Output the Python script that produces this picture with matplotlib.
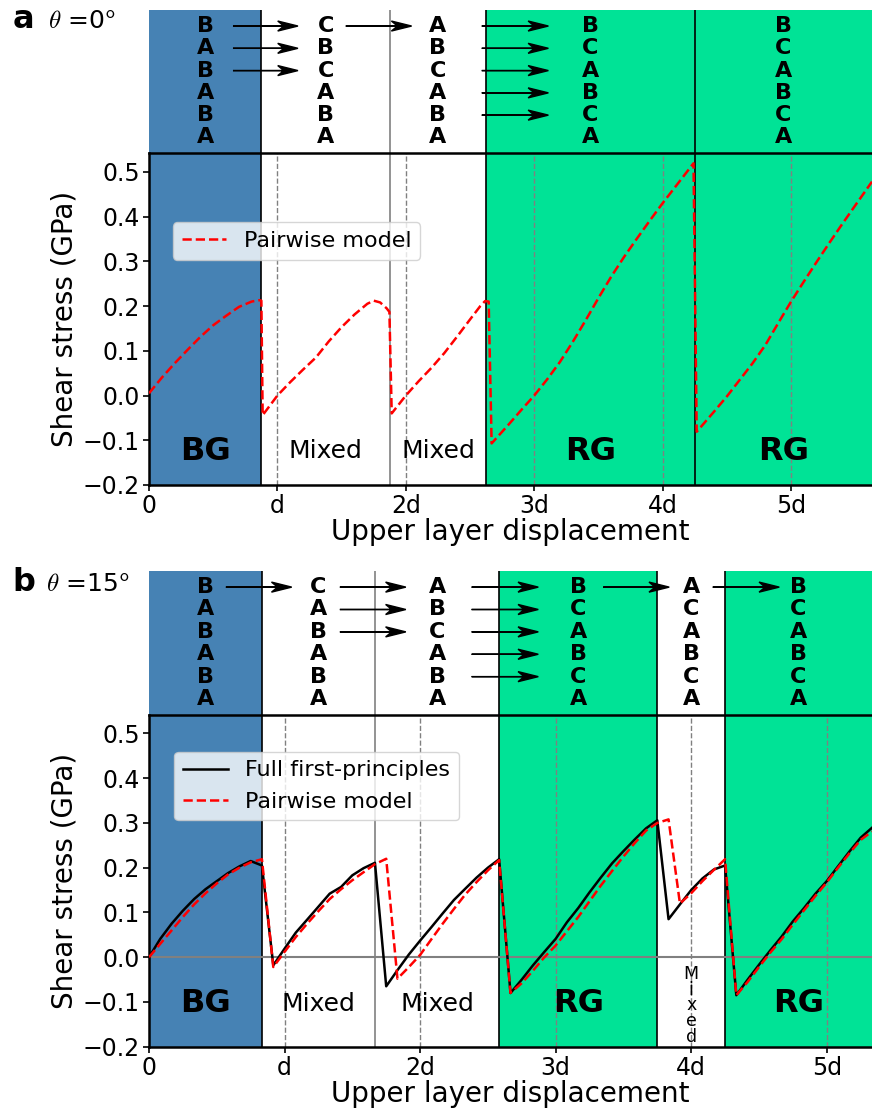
import matplotlib.pyplot as plt
import numpy as np

# ---------------- data ----------------
# panel a (theta = 0): pairwise model only
a_x = [0, 0.1, 0.2, 0.3, 0.4, 0.5, 0.6, 0.7, 0.8, 0.86, 0.875, 0.885,
       1.0, 1.1, 1.2, 1.3, 1.4, 1.5, 1.6, 1.7, 1.75, 1.8, 1.85, 1.872, 1.89,
       2.0, 2.1, 2.2, 2.3, 2.4, 2.5, 2.58, 2.617, 2.645, 2.668,
       2.8, 2.9, 3.0, 3.1, 3.2, 3.3, 3.4, 3.5, 3.6, 3.7, 3.8, 3.9, 4.0, 4.1, 4.2, 4.24, 4.265,
       4.4, 4.5, 4.6, 4.7, 4.8, 4.9, 5.0, 5.1, 5.2, 5.3, 5.4, 5.5, 5.63]
a_pair = [0.005, 0.04, 0.072, 0.102, 0.131, 0.157, 0.178, 0.198, 0.21, 0.213, 0.212, -0.044,
          0.0, 0.03, 0.058, 0.085, 0.121, 0.153, 0.181, 0.205, 0.212, 0.208, 0.195, 0.187, -0.04,
          0.0, 0.032, 0.062, 0.095, 0.132, 0.17, 0.2, 0.211, 0.21, -0.107,
          -0.065, -0.032, 0.0, 0.036, 0.075, 0.12, 0.168, 0.218, 0.266, 0.31, 0.351, 0.391, 0.43, 0.467, 0.504, 0.519, -0.081,
          -0.036, -0.002, 0.035, 0.072, 0.113, 0.162, 0.21, 0.255, 0.299, 0.342, 0.384, 0.425, 0.478]
a_bounds = [0, 0.875, 1.875, 2.625, 4.25, 5.63]
a_kinds = ['BG', 'Mixed', 'Mixed', 'RG', 'RG']
a_stacks = ['BABABA', 'CBCABA', 'ABCABA', 'BCABCA', 'BCABCA']
a_arrows = [(0.654, 1.16, 3), (1.532, 2.045, 1), (2.591, 3.11, 5)]

# panel b (theta = 15): full first-principles and pairwise model
b_x = [0, 0.083, 0.167, 0.25, 0.333, 0.417, 0.5, 0.583, 0.667, 0.75, 0.833,
       0.917, 1.0, 1.083, 1.167, 1.25, 1.333, 1.417, 1.5, 1.583, 1.667,
       1.75, 1.833, 1.917, 2.0, 2.083, 2.167, 2.25, 2.333, 2.417, 2.5, 2.583,
       2.667, 2.75, 2.833, 2.917, 3.0, 3.083, 3.167, 3.25, 3.333, 3.417, 3.5,
       3.583, 3.667, 3.75, 3.833, 3.917, 4.0, 4.083, 4.167, 4.25,
       4.333, 4.417, 4.5, 4.583, 4.667, 4.75, 4.833, 4.917, 5.0, 5.083,
       5.167, 5.25, 5.333]
b_full = [0.0, 0.041, 0.075, 0.104, 0.130, 0.152, 0.170, 0.188, 0.203, 0.215, 0.205,
          -0.018, 0.019, 0.055, 0.084, 0.113, 0.142, 0.157, 0.183, 0.199, 0.211,
          -0.065, -0.029, 0.006, 0.037, 0.067, 0.098, 0.128, 0.153, 0.178, 0.200, 0.219,
          -0.080, -0.050, -0.018, 0.012, 0.041, 0.078, 0.110, 0.145, 0.178, 0.210, 0.237,
          0.263, 0.288, 0.306, 0.085, 0.118, 0.150, 0.176, 0.196, 0.205,
          -0.085, -0.050, -0.017, 0.015, 0.046, 0.080, 0.110, 0.142, 0.170, 0.203,
          0.236, 0.267, 0.289]
b_pair = [0.0, 0.030, 0.060, 0.090, 0.118, 0.143, 0.165, 0.185, 0.200, 0.212, 0.219,
          -0.022, 0.012, 0.045, 0.075, 0.103, 0.130, 0.152, 0.172, 0.190, 0.208,
          0.220, -0.048, -0.022, 0.005, 0.040, 0.075, 0.108, 0.140, 0.168, 0.194, 0.217,
          -0.080, -0.058, -0.030, 0.000, 0.026, 0.058, 0.090, 0.125, 0.160, 0.193, 0.225,
          0.255, 0.283, 0.300, 0.308, 0.120, 0.143, 0.170, 0.195, 0.219,
          -0.085, -0.055, -0.022, 0.010, 0.040, 0.073, 0.105, 0.137, 0.167, 0.200,
          0.232, 0.262, 0.281]
b_bounds = [0, 0.833, 1.667, 2.583, 3.75, 4.25, 5.334]
b_kinds = ['BG', 'Mixed', 'Mixed', 'RG', 'Mixed', 'RG']
b_stacks = ['BABABA', 'CABABA', 'ABCABA', 'BCABCA', 'ACABCA', 'BCABCA']
b_arrows = [(0.567, 1.053, 1), (1.408, 1.895, 3), (2.38, 2.872, 5),
            (3.351, 3.838, 1), (4.159, 4.65, 1)]

xtick_labels = ['0', 'd', '2d', '3d', '4d', '5d']
region_color = {'BG': '#4682B4', 'RG': '#00E396', 'Mixed': 'white'}

H = 1115.0
L = 149 / 872.0
fig = plt.figure(figsize=(8.72, 11.15), dpi=100)


def panel(top_px, mid_px, bot_px, bounds, kinds, stacks, arrows, label_y, zero_line):
    ax_top = fig.add_axes([L, 1 - mid_px / H, 1 - L, (mid_px - top_px) / H])
    ax = fig.add_axes([L, 1 - bot_px / H, 1 - L, (bot_px - mid_px) / H])
    xmax = bounds[-1]

    for a in (ax_top, ax):
        a.set_xlim(0, xmax)
        for i, k in enumerate(kinds):
            if k != 'Mixed':
                a.axvspan(bounds[i], bounds[i + 1], color=region_color[k], lw=0, zorder=0)
        for i in range(1, len(kinds)):
            c = '0.5' if kinds[i - 1] == kinds[i] == 'Mixed' else 'k'
            a.axvline(bounds[i], color=c, lw=1.2, zorder=1)

    # stacking sequences
    ax_top.set_ylim(-0.7, 5.72)
    ax_top.axis('off')
    for i, s in enumerate(stacks):
        xc = 0.5 * (bounds[i] + bounds[i + 1])
        for j, ch in enumerate(s):
            ax_top.text(xc, 5 - j, ch, ha='center', va='center',
                        fontsize=16, fontweight='bold')
    hl = 0.028 * xmax
    for x0, x1, n in arrows:
        for j in range(n):
            ax_top.arrow(x0, 5 - j, x1 - x0, 0, width=0, head_width=0.45,
                         head_length=hl, overhang=0.3, length_includes_head=True,
                         color='k', lw=1)

    # stress plot
    ax.set_ylim(-0.2, 0.542)
    for d in range(1, 6):
        ax.axvline(d, color='gray', ls='--', lw=1, zorder=1)
    if zero_line:
        ax.axhline(0, color='gray', lw=1.5, zorder=1)
    for i, k in enumerate(kinds):
        xc = 0.5 * (bounds[i] + bounds[i + 1])
        if k == 'Mixed' and bounds[i + 1] - bounds[i] < 0.6:
            for j, ch in enumerate('Mixed'):
                ax.text(xc, -0.048 - 0.0354 * j, ch, ha='center', va='baseline',
                        fontsize=12.5)
        elif k == 'Mixed':
            ax.text(xc, label_y, k, ha='center', va='center', fontsize=18)
        else:
            ax.text(xc, label_y, k, ha='center', va='center', fontsize=23,
                    fontweight='bold')

    ax.set_xticks(range(6))
    ax.set_xticklabels(xtick_labels)
    ax.set_yticks(np.arange(-0.2, 0.51, 0.1))
    ax.tick_params(labelsize=17, length=4, width=1.2, pad=2.5)
    for sp in ['left', 'bottom', 'top']:
        ax.spines[sp].set_linewidth(1.8)
    ax.spines['right'].set_visible(False)
    ax.set_ylabel('Shear stress (GPa)', fontsize=20, labelpad=3)
    ax.set_xlabel('Upper layer displacement', fontsize=20, labelpad=0)
    return ax


ax_a = panel(10, 153, 485, a_bounds, a_kinds, a_stacks, a_arrows, -0.125, False)
ax_a.plot(a_x, a_pair, 'r--', lw=1.8, label='Pairwise model', zorder=3)
ax_a.legend(loc='upper left', bbox_to_anchor=(0.033, 0.792), borderaxespad=0,
            fontsize=16)

ax_b = panel(571, 714.7, 1046.7, b_bounds, b_kinds, b_stacks, b_arrows, -0.104, True)
ax_b.plot(b_x, b_full, 'k-', lw=1.8, label='Full first-principles', zorder=3)
ax_b.plot(b_x, b_pair, 'r--', lw=1.8, label='Pairwise model', zorder=4)
ax_b.legend(loc='upper left', bbox_to_anchor=(0.035, 0.889), borderaxespad=0,
            fontsize=16)

# panel letters
fig.text(13 / 872, 1 - 28 / H, 'a', fontsize=23, fontweight='bold', va='baseline')
fig.text(48 / 872, 1 - 28 / H, r'$\theta$ =0$^\mathsf{o}$', fontsize=18,
         va='baseline', math_fontfamily='cm')
fig.text(12 / 872, 1 - 591 / H, 'b', fontsize=23, fontweight='bold', va='baseline')
fig.text(46 / 872, 1 - 591 / H, r'$\theta$ =15$^\mathsf{o}$', fontsize=18,
         va='baseline', math_fontfamily='cm')

fig.savefig('out.png', dpi=100)
